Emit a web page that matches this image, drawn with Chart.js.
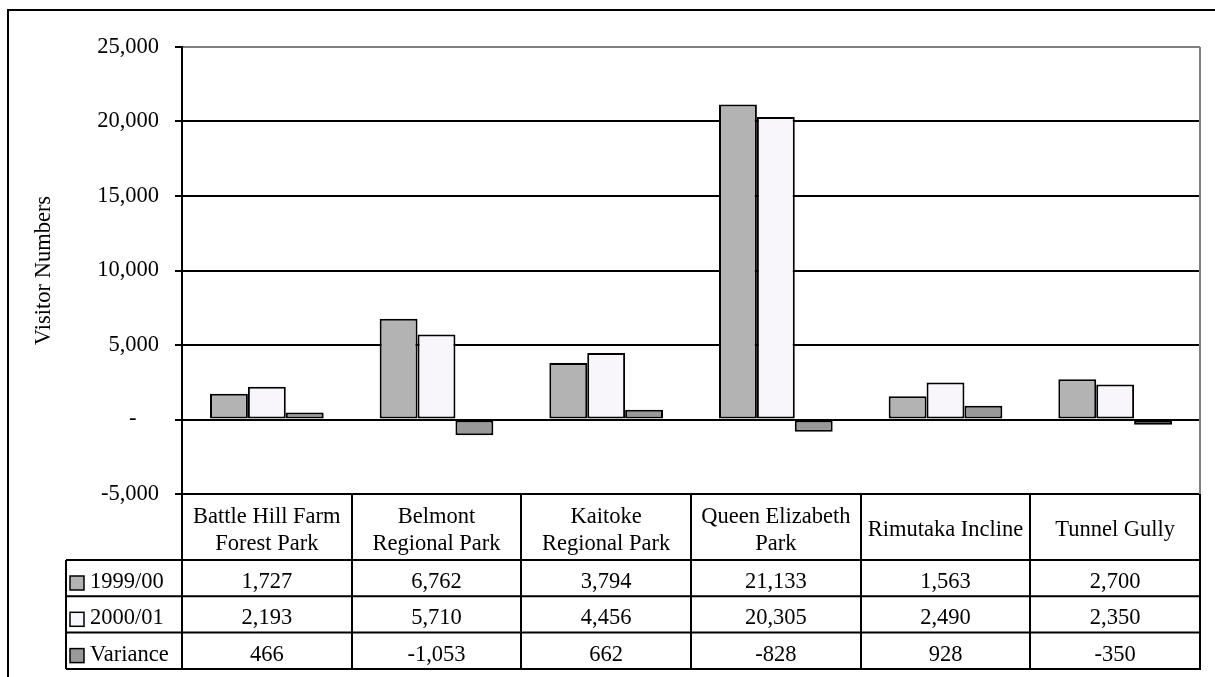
<!DOCTYPE html>
<html>
<head>
<meta charset="utf-8">
<script src="https://cdn.jsdelivr.net/npm/chart.js@4.4.1/dist/chart.umd.min.js"></script>
<style>
  html, body { margin: 0; padding: 0; background: #fff; }
  #wrap { position: relative; width: 1215px; height: 677px; }
</style>
</head>
<body>
<div id="wrap"><canvas id="chart"></canvas></div>
<script>
const categories = [
  ['Battle Hill Farm', 'Forest Park'],
  ['Belmont', 'Regional Park'],
  ['Kaitoke', 'Regional Park'],
  ['Queen Elizabeth', 'Park'],
  'Rimutaka Incline',
  'Tunnel Gully'
];
const seriesNames = ['1999/00', '2000/01', 'Variance'];
const visitors1999 = [1727, 6762, 3794, 21133, 1563, 2700];
const visitors2000 = [2193, 5710, 4456, 20305, 2490, 2350];
const variance = [466, -1053, 662, -828, 928, -350];
const yTicks = [-5000, 0, 5000, 10000, 15000, 20000, 25000];

const FONT = { family: '"Liberation Serif", "Times New Roman", serif', size: 22.5 };
const colors = ['#b3b3b3', '#f8f6fa', '#999999'];
const HEADER_H = 66;
const ROW_H = 36.3;

const fmt = v => v.toLocaleString('en-US');

// data table under the plot, Excel style
const dataTable = {
  id: 'dataTable',
  afterDraw(chart) {
    const { ctx, chartArea, scales: { x } } = chart;
    const rows = [visitors1999, visitors2000, variance];
    const top = chartArea.bottom + HEADER_H;
    const left = 66;
    ctx.save();
    ctx.strokeStyle = '#000';
    ctx.lineWidth = 2;
    ctx.beginPath();
    for (let r = 0; r <= rows.length; r++) {
      const y = top + r * ROW_H;
      ctx.moveTo(left, y);
      ctx.lineTo(chartArea.right + 1, y);
    }
    ctx.moveTo(left, top);
    ctx.lineTo(left, top + rows.length * ROW_H);
    ctx.stroke();

    ctx.font = FONT.size + 'px ' + FONT.family;
    ctx.textBaseline = 'middle';
    rows.forEach((vals, r) => {
      const rowTop = top + r * ROW_H;
      const cy = rowTop + ROW_H / 2 + 4;
      // legend key
      ctx.fillStyle = colors[r];
      ctx.fillRect(70, rowTop + 16, 14, 14);
      ctx.lineWidth = 1.5;
      ctx.strokeRect(70, rowTop + 16, 14, 14);
      ctx.fillStyle = '#000';
      ctx.textAlign = 'left';
      ctx.fillText(seriesNames[r], 90, cy);
      ctx.textAlign = 'center';
      vals.forEach((v, i) => ctx.fillText(fmt(v), x.getPixelForValue(i), cy));
    });

    // plot area right edge and outer frame
    ctx.strokeStyle = '#808080';
    ctx.lineWidth = 2;
    ctx.beginPath();
    ctx.moveTo(chartArea.right, chartArea.top);
    ctx.lineTo(chartArea.right, chartArea.bottom);
    ctx.stroke();
    ctx.strokeStyle = '#000';
    ctx.beginPath();
    ctx.moveTo(8, 677);
    ctx.lineTo(8, 10);
    ctx.lineTo(1215, 10);
    ctx.stroke();
    ctx.restore();
  }
};

new Chart(document.getElementById('chart'), {
  type: 'bar',
  data: {
    labels: categories,
    datasets: [visitors1999, visitors2000, variance].map((d, i) => ({
      label: seriesNames[i],
      data: d,
      backgroundColor: colors[i],
      borderColor: '#000',
      borderWidth: 2,
      borderSkipped: false,
      categoryPercentage: 0.67,
      barPercentage: 1
    }))
  },
  options: {
    responsive: true,
    maintainAspectRatio: false,
    animation: false,
    layout: { padding: { left: 10, top: 47, right: 15, bottom: 8 } },
    plugins: { legend: { display: false }, tooltip: { enabled: false } },
    scales: {
      x: {
        grid: { drawOnChartArea: false, drawTicks: true, tickLength: 175, color: '#000', lineWidth: 2 },
        border: { display: true, color: '#000', width: 2 },
        ticks: {
          font: Object.assign({}, FONT, { lineHeight: 1.19 }),
          color: '#000',
          padding: -152,
          crossAlign: 'center',
          maxRotation: 0,
          autoSkip: false
        },
        afterFit: s => { s.height = 175; }
      },
      y: {
        min: -5000,
        max: 25000,
        afterBuildTicks: s => { s.ticks = yTicks.map(v => ({ value: v })); },
        grid: {
          color: c => (c.tick && c.tick.value === 25000 ? '#808080' : '#000'),
          tickColor: '#000',
          lineWidth: 2,
          tickLength: 7
        },
        border: { color: '#000', width: 2 },
        ticks: {
          font: FONT,
          color: '#000',
          padding: 16,
          callback: v => (v === 0 ? '-\u2007\u2007' : fmt(v))
        },
        title: { display: true, text: 'Visitor Numbers', font: FONT, color: '#000', padding: { top: 21 } },
        afterFit: s => { s.width = 172; }
      }
    }
  },
  plugins: [dataTable]
});
</script>
</body>
</html>
